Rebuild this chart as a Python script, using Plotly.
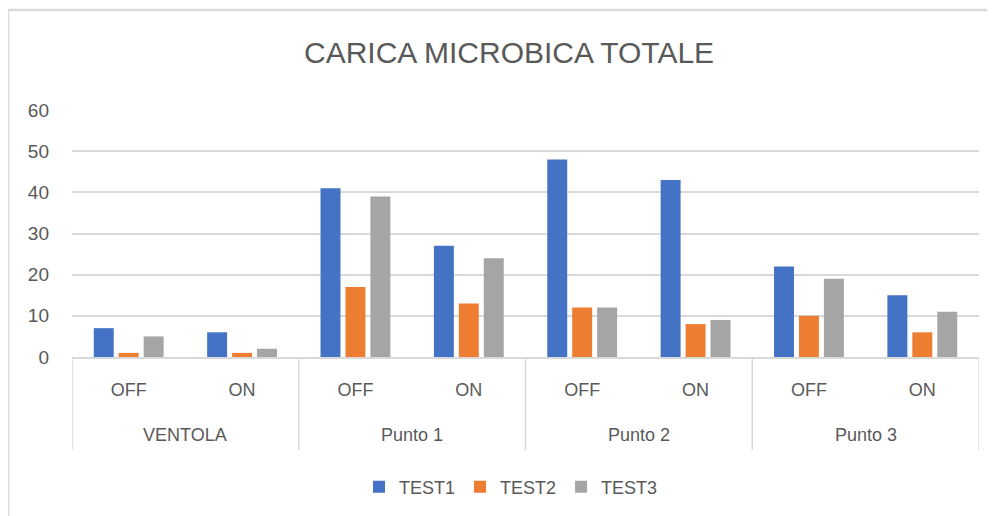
import plotly.graph_objects as go

groups = ["VENTOLA", "Punto 1", "Punto 2", "Punto 3"]
states = ["OFF", "ON"]
categories = [f"{g} {s}" for g in groups for s in states]
tick_labels = [s for g in groups for s in states]

test1 = [7, 6, 41, 27, 48, 43, 22, 15]
test2 = [1, 1, 17, 13, 12, 8, 10, 6]
test3 = [5, 2, 39, 24, 12, 9, 19, 11]

series = [("TEST1", test1, "#4472C4"), ("TEST2", test2, "#ED7D31"), ("TEST3", test3, "#A5A5A5")]

FONT = "Liberation Sans"
TXT = "#595959"
GRID = "#D9D9D9"

fig = go.Figure()
for name, vals, col in series:
    fig.add_trace(go.Bar(x=categories, y=vals, name=name, marker=dict(color=col, line=dict(width=0))))

# page body has an 8px margin: convert screen pixels to figure pixels
OFF = 8
W, H = 995, 516
# plot area in screen pixels: left 72, right 979, top 110, bottom 357
L, R, T, B = 72 - OFF, 979 - OFF, 110 - OFF, 357 - OFF
pw, ph = R - L, B - T

def px_x(p):
    return (p - OFF - L) / pw

def px_y(p):
    return (B - (p - OFF)) / ph

shapes = []
for i in range(len(groups) + 1):
    xv = -0.5 + 2 * i
    shapes.append(dict(type="line", xref="x", yref="paper", x0=xv, x1=xv,
                       y0=0, y1=px_y(450), line=dict(color=GRID, width=1.5)))
# chart border: top and left edges only (rest lies outside the window)
shapes.append(dict(type="line", xref="paper", yref="paper", x0=px_x(7), x1=px_x(1000),
                   y0=px_y(10), y1=px_y(10), line=dict(color=GRID, width=2.5)))
shapes.append(dict(type="line", xref="paper", yref="paper", x0=px_x(8), x1=px_x(8),
                   y0=px_y(9), y1=px_y(530), line=dict(color=GRID, width=2.5)))

annotations = []
for i, g in enumerate(groups):
    annotations.append(dict(text=g, xref="x", yref="paper", x=0.5 + 2 * i, y=px_y(435),
                            showarrow=False, xanchor="center", yanchor="middle",
                            font=dict(family=FONT, size=18, color=TXT)))
annotations.append(dict(text="CARICA MICROBICA TOTALE", xref="paper", yref="paper",
                        x=px_x(509), y=px_y(53), showarrow=False, xanchor="center",
                        yanchor="middle", font=dict(family=FONT, size=30, color=TXT)))

fig.update_layout(
    width=W, height=H,
    margin=dict(l=L, r=W - R, t=T, b=H - B),
    paper_bgcolor="white", plot_bgcolor="white",
    barmode="group", bargap=0.34, bargroupgap=0.2,
    font=dict(family=FONT, size=18, color=TXT),
    shapes=shapes, annotations=annotations,
    legend=dict(orientation="h", x=px_x(511), xanchor="center", y=px_y(487), yanchor="middle",
                font=dict(family=FONT, size=18, color=TXT), itemclick=False),
    xaxis=dict(type="category", categoryorder="array", categoryarray=categories,
               tickvals=categories, ticktext=tick_labels, range=[-0.5, 7.5],
               showline=True, linecolor=GRID, linewidth=1.5, showgrid=False,
               ticks="", ticklabelstandoff=16, tickfont=dict(family=FONT, size=18, color=TXT)),
    yaxis=dict(range=[0, 60], dtick=10, showgrid=True, gridcolor=GRID, gridwidth=1.5,
               zeroline=False, showline=False, ticks="", ticklabelstandoff=22,
               tickfont=dict(family=FONT, size=19, color=TXT)),
)

fig.write_html("out.html")
